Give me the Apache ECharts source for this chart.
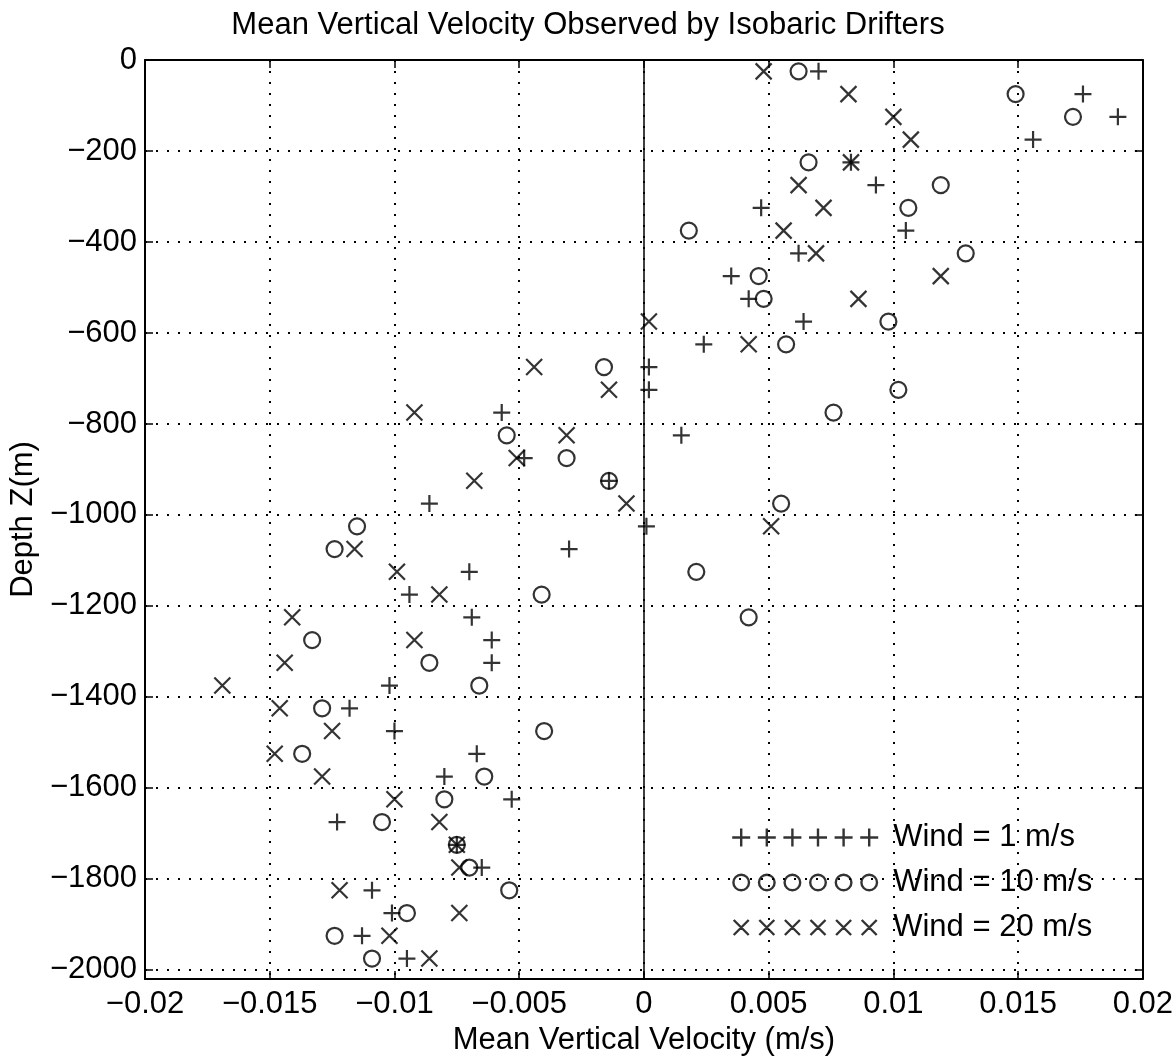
<!DOCTYPE html>
<html>
<head>
<meta charset="utf-8">
<script src="https://cdn.jsdelivr.net/npm/echarts@6/dist/echarts.min.js"></script>
<style>
html,body{margin:0;padding:0;background:#fff;}
#chart{width:1176px;height:1063px;}
</style>
</head>
<body>
<div id="chart"></div>
<script>
// Depth levels (m)
const depths = [-25,-75,-125,-175,-225,-275,-325,-375,-425,-475,
                -525,-575,-625,-675,-725,-775,-825,-875,-925,-975,
                -1025,-1075,-1125,-1175,-1225,-1275,-1325,-1375,-1425,-1475,
                -1525,-1575,-1625,-1675,-1725,-1775,-1825,-1875,-1925,-1975];
// Mean vertical velocity (m/s), Wind = 1 m/s  (+)
const wind1 = [0.0070,0.0176,0.0190,0.0156,0.0083,0.0093,0.0047,0.0105,0.0062,0.0035,
               0.0042,0.0064,0.0024,0.0002,0.0002,-0.0057,0.0015,-0.0048,-0.0014,-0.0086,
               0.0001,-0.0030,-0.0070,-0.0094,-0.0069,-0.0061,-0.0061,-0.0102,-0.0118,-0.0100,
               -0.0067,-0.0080,-0.0053,-0.0123,-0.0075,-0.0065,-0.0109,-0.0101,-0.0113,-0.0095];
// Wind = 10 m/s (o)
const wind10 = [0.0062,0.0149,0.0172,null,0.0066,0.0119,0.0106,0.0018,0.0129,0.0046,
                0.0048,0.0098,0.0057,-0.0016,0.0102,0.0076,-0.0055,-0.0031,-0.0014,0.0055,
                -0.0115,-0.0124,0.0021,-0.0041,0.0042,-0.0133,-0.0086,-0.0066,-0.0129,-0.0040,
                -0.0137,-0.0064,-0.0080,-0.0105,-0.0075,-0.0070,-0.0054,-0.0095,-0.0124,-0.0109];
// Wind = 20 m/s (x)
const wind20 = [0.0048,0.0082,0.0100,0.0107,0.0083,0.0062,0.0072,0.0056,0.0069,0.0119,
                0.0086,0.0002,0.0042,-0.0044,-0.0014,-0.0092,-0.0031,-0.0051,-0.0068,-0.0007,
                0.0051,-0.0116,-0.0099,-0.0082,-0.0141,-0.0092,-0.0144,-0.0169,-0.0146,-0.0125,
                -0.0148,-0.0129,-0.0100,-0.0082,-0.0075,-0.0074,-0.0122,-0.0074,-0.0102,-0.0086];

const seriesNames = ['Wind = 1 m/s', 'Wind = 10 m/s', 'Wind = 20 m/s'];
const xTickLabels = ['\u22120.02','\u22120.015','\u22120.01','\u22120.005','0','0.005','0.01','0.015','0.02'];
const yTickLabels = ['\u22122000','\u22121800','\u22121600','\u22121400','\u22121200','\u22121000','\u2212800','\u2212600','\u2212400','\u2212200','0'];

const titleText = 'Mean Vertical Velocity Observed by Isobaric Drifters';
const xName = 'Mean Vertical Velocity (m/s)';
const yName = 'Depth Z(m)';

function pairs(vals) {
  const out = [];
  for (let i = 0; i < depths.length; i++) {
    if (vals[i] !== null) out.push([vals[i], depths[i]]);
  }
  return out;
}

// marker shapes
const plusPath = 'path://M0,-8L0,8M-8,0L8,0';
const crossPath = 'path://M-8,-8L8,8M-8,8L8,-8';

// legend icons: six markers in a 146x18 box
const centers = [9, 34.6, 60.2, 85.8, 111.4, 137];
function legendPlus() {
  let p = '';
  centers.forEach(c => { p += 'M' + c + ',0L' + c + ',18M' + (c - 9) + ',9L' + (c + 9) + ',9'; });
  return 'path://' + p;
}
function legendCross() {
  let p = 'M0,0M146,18';
  centers.forEach(c => { p += 'M' + (c - 7.5) + ',1.5L' + (c + 7.5) + ',16.5M' + (c - 7.5) + ',16.5L' + (c + 7.5) + ',1.5'; });
  return 'path://' + p;
}
function legendCircle() {
  let p = 'M0,0M146,18';
  const r = 7.8;
  centers.forEach(c => {
    p += 'M' + (c + r) + ',9A' + r + ',' + r + ',0,1,1,' + (c - r) + ',9A' + r + ',' + r + ',0,1,1,' + (c + r) + ',9';
  });
  return 'path://' + p;
}

const FONT = 'Liberation Sans, Arial, Helvetica, sans-serif';
const FS = 31;
const markerStyle = { color: 'transparent', borderColor: '#000', borderWidth: 2.2 };

const chart = echarts.init(document.getElementById('chart'), null, { renderer: 'canvas' });

const xAxisCommon = {
  type: 'value', min: -0.02, max: 0.02, interval: 0.005,
  axisLine: { show: true, onZero: false, lineStyle: { color: '#000', width: 2 } },
  axisTick: { show: true, inside: true, length: 8, lineStyle: { color: '#000', width: 1.5 } }
};
const yAxisCommon = {
  type: 'value', min: -2020, max: 0, minInterval: 200, maxInterval: 200,
  axisLine: { show: true, onZero: false, lineStyle: { color: '#000', width: 2 } },
  axisTick: { show: true, inside: true, length: 8, lineStyle: { color: '#000', width: 1.5 } }
};

const option = {
  animation: false,
  backgroundColor: '#fff',
  textStyle: { fontFamily: FONT, color: '#000' },
  title: {
    text: titleText, left: 'center', top: 5,
    textStyle: { fontFamily: FONT, fontSize: FS, fontWeight: 'normal', color: '#000' }
  },
  grid: { left: 145, right: 33, top: 60, bottom: 84, containLabel: false },
  legend: {
    orient: 'vertical', left: 731, top: 822, padding: 0, itemGap: 14,
    itemWidth: 146, itemHeight: 18,
    selectedMode: false,
    itemStyle: { color: 'transparent', borderColor: '#000', borderWidth: 2.4 },
    textStyle: { fontFamily: FONT, fontSize: FS, color: '#000', padding: [0, 0, 0, 10], lineHeight: 31 },
    data: [
      { name: seriesNames[0], icon: legendPlus() },
      { name: seriesNames[1], icon: legendCircle() },
      { name: seriesNames[2], icon: legendCross() }
    ]
  },
  xAxis: [
    Object.assign({}, xAxisCommon, {
      position: 'bottom',
      name: xName, nameLocation: 'middle', nameGap: 46,
      nameTextStyle: { fontFamily: FONT, fontSize: FS, color: '#000' },
      axisLabel: {
        show: true, margin: 10, fontFamily: FONT, fontSize: FS, color: '#000',
        formatter: function (v) { return xTickLabels[Math.round((v + 0.02) / 0.005)]; }
      },
      splitLine: { show: true, lineStyle: { color: '#000', type: [2, 9], width: 2 } }
    }),
    Object.assign({}, xAxisCommon, {
      position: 'top', axisLabel: { show: false }, splitLine: { show: false }
    })
  ],
  yAxis: [
    Object.assign({}, yAxisCommon, {
      position: 'left',
      name: yName, nameLocation: 'middle', nameGap: 101, nameRotate: 90,
      nameTextStyle: { fontFamily: FONT, fontSize: FS, color: '#000' },
      axisLabel: {
        show: true, margin: 8, fontFamily: FONT, fontSize: FS, color: '#000',
        formatter: function (v) {
          const i = Math.round((v + 2000) / 200);
          if (Math.abs(v - (-2000 + i * 200)) > 1e-6) return '';
          return yTickLabels[i];
        }
      },
      splitLine: { show: true, lineStyle: { color: '#000', type: [2, 9], width: 2 } }
    }),
    Object.assign({}, yAxisCommon, {
      position: 'right', axisLabel: { show: false }, splitLine: { show: false }
    })
  ],
  series: [
    {
      name: seriesNames[0], type: 'scatter', xAxisIndex: 0, yAxisIndex: 0,
      symbol: plusPath, symbolSize: 17, itemStyle: markerStyle,
      emphasis: { disabled: true }, silent: true,
      data: pairs(wind1),
      markLine: {
        silent: true, symbol: 'none', label: { show: false },
        lineStyle: { color: '#000', type: 'solid', width: 1.5 },
        emphasis: { disabled: true },
        data: [{ xAxis: 0 }]
      }
    },
    {
      name: seriesNames[1], type: 'scatter', xAxisIndex: 0, yAxisIndex: 0,
      symbol: 'circle', symbolSize: 16, itemStyle: markerStyle,
      emphasis: { disabled: true }, silent: true,
      data: pairs(wind10)
    },
    {
      name: seriesNames[2], type: 'scatter', xAxisIndex: 0, yAxisIndex: 0,
      symbol: crossPath, symbolSize: 16, itemStyle: markerStyle,
      emphasis: { disabled: true }, silent: true,
      data: pairs(wind20)
    }
  ]
};

chart.setOption(option);
</script>
</body>
</html>
